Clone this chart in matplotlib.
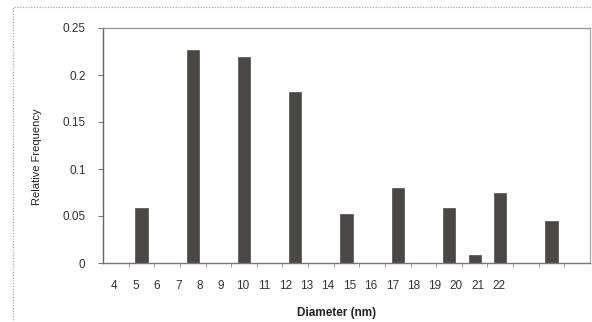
import numpy as np
import matplotlib.pyplot as plt
from matplotlib.patches import Rectangle

plt.rcParams['font.family'] = ['Liberation Sans', 'DejaVu Sans']

# diameter classes (nm) and their relative frequencies
diameters = [4, 5, 6, 7, 8, 9, 10, 11, 12, 13, 14, 15, 16, 17, 18, 19, 20, 21, 22]
rel_freq = [0, 0.058, 0, 0.227, 0, 0.219, 0, 0.182, 0, 0.052,
            0, 0.080, 0, 0.059, 0.009, 0.074, 0, 0.045, 0]
y_ticks = [0, 0.05, 0.1, 0.15, 0.2, 0.25]
y_ticklabels = ["0", "0.05", "0.1", "0.15", "0.2", "0.25"]

fig = plt.figure(figsize=(5.92, 3.22), dpi=100)
fig.patch.set_facecolor("white")
ax = fig.add_axes([103 / 592, 1 - 263 / 322, 487 / 592, 235 / 322])

x = np.arange(len(rel_freq))
ax.bar(x, rel_freq, width=0.48, color="#4a4747", edgecolor="#3a3838", linewidth=0.4)

ax.set_xlim(-0.5, len(rel_freq) - 0.5)
ax.set_ylim(0, 0.25)

# category boundaries get the tick marks, labels sit on a tighter pitch
ax.set_xticks(x[:-1] + 0.5, minor=True)
label_pos = -0.071 + 0.835 * np.arange(len(diameters))
ax.set_xticks(label_pos)
ax.set_xticklabels([str(d) for d in diameters], fontsize=8.5, color="#333333")
ax.tick_params(axis="x", which="major", length=0, pad=12)
ax.tick_params(axis="x", which="minor", length=3, direction="out", color="#888888")

ax.set_yticks(y_ticks)
ax.set_yticklabels(y_ticklabels, fontsize=8.5, color="#333333")
ax.tick_params(axis="y", length=3.6, direction="out", color="#777777", pad=9)

for side, col in [("left", "#666666"), ("bottom", "#777777"),
                  ("top", "#9a9a9a"), ("right", "#b0b0b0")]:
    ax.spines[side].set_color(col)
    ax.spines[side].set_linewidth(1.0)

ax.set_xlabel("Diameter (nm)", fontsize=8.5, fontweight="bold", color="#222222")
ax.xaxis.set_label_coords((337 - 103) / 487, -(313 - 263) / 235)
ax.xaxis.label.set_va("center")
fig.text(37 / 592, 1 - 157 / 322, "Relative Frequency", rotation=90, fontsize=8,
         color="#222222", ha="center", va="center")

# dotted chart-area frame
frame = Rectangle((13 / 592, -0.05), 1.0, 1 - 7 / 322 + 0.05, transform=fig.transFigure,
                  fill=False, linestyle=(0, (1, 1.5)), edgecolor="#9a9a9a", linewidth=0.8)
fig.patches.append(frame)

fig.savefig("out.png", dpi=100)
